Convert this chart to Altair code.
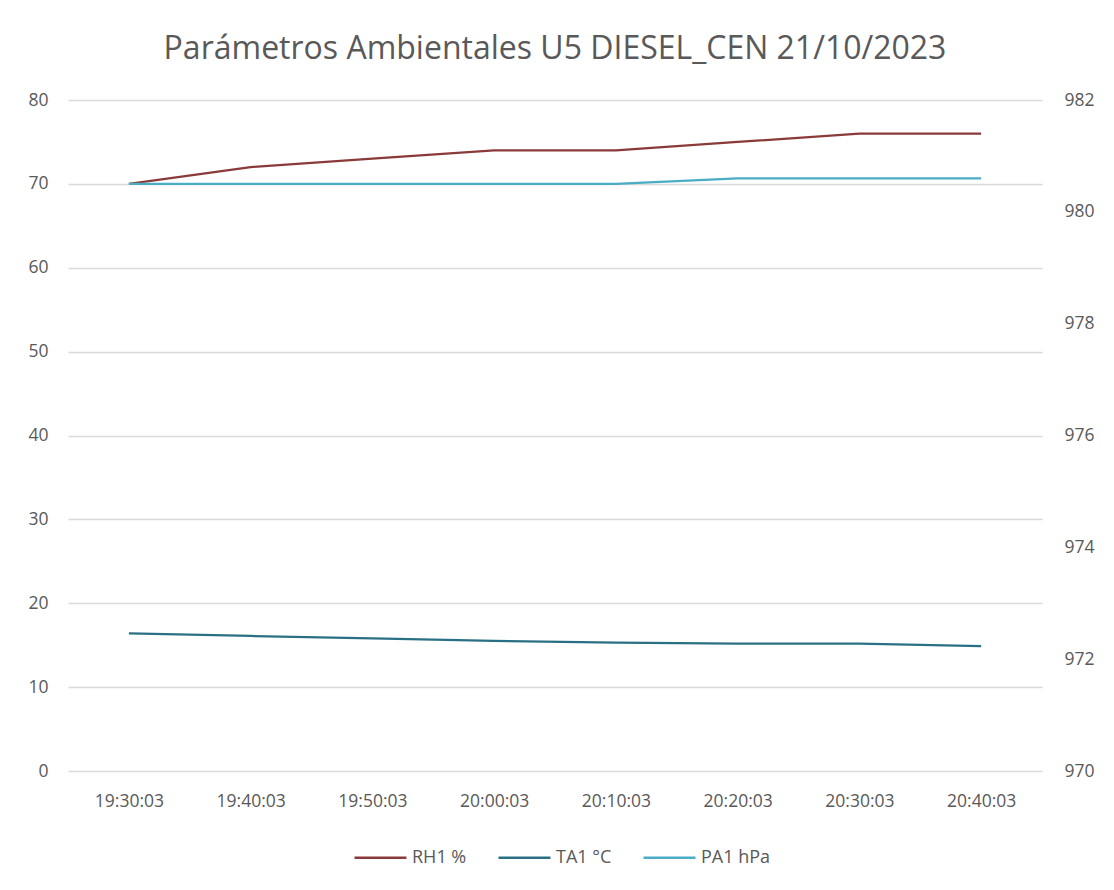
import altair as alt
import pandas as pd

times = ["19:30:03", "19:40:03", "19:50:03", "20:00:03", "20:10:03", "20:20:03", "20:30:03", "20:40:03"]
rh1 = [70, 72, 73, 74, 74, 75, 76, 76]
ta1 = [16.4, 16.1, 15.8, 15.5, 15.3, 15.2, 15.2, 14.9]
pa1 = [980.5, 980.5, 980.5, 980.5, 980.5, 980.6, 980.6, 980.6]

series = ["RH1 %", "TA1 °C", "PA1 hPa"]
colors = ["#8B3A3A", "#2A7084", "#4BACC6"]

rows = []
for t, a, b, c in zip(times, rh1, ta1, pa1):
    rows.append({"time": t, "serie": "RH1 %", "value": a})
    rows.append({"time": t, "serie": "TA1 °C", "value": b})
    rows.append({"time": t, "serie": "PA1 hPa", "value": c})
df = pd.DataFrame(rows)

FONT = "Open Sans"
GRAY = "#595959"
LBL = 17.5

x_enc = alt.X("time:O", sort=times,
              scale=alt.Scale(type="point", padding=0.5),
              axis=alt.Axis(title=None, labelAngle=0, domain=False, ticks=False,
                            labelPadding=21, labelFontSize=LBL, labelColor=GRAY,
                            labelFont=FONT, grid=False))
color_enc = alt.Color("serie:N", scale=alt.Scale(domain=series, range=colors),
                      sort=series,
                      legend=alt.Legend(title=None, orient="none", direction="horizontal",
                                        legendX=285, legendY=730,
                                        symbolType="stroke", symbolSize=2700,
                                        symbolStrokeWidth=2.5, labelFontSize=18,
                                        labelColor=GRAY, labelFont=FONT,
                                        columnPadding=26, labelOffset=4))

left = alt.Chart(df).transform_filter(
    alt.FieldOneOfPredicate(field="serie", oneOf=["RH1 %", "TA1 °C"])
).mark_line(strokeWidth=2.25).encode(
    x=x_enc,
    y=alt.Y("value:Q", scale=alt.Scale(domain=[0, 80], nice=False),
            axis=alt.Axis(title=None, values=list(range(0, 81, 10)), domain=False,
                          ticks=False, labelPadding=20, labelFontSize=LBL,
                          labelColor=GRAY, labelFont=FONT, grid=True,
                          gridColor="#D9D9D9", gridWidth=1.5, orient="left")),
    color=color_enc,
)

right = alt.Chart(df).transform_filter(
    alt.FieldEqualPredicate(field="serie", equal="PA1 hPa")
).mark_line(strokeWidth=2.25).encode(
    x=x_enc,
    y=alt.Y("value:Q", scale=alt.Scale(domain=[970, 982], nice=False, zero=False),
            axis=alt.Axis(title=None, values=list(range(970, 983, 2)), domain=False,
                          ticks=False, labelPadding=22, labelFontSize=LBL,
                          labelColor=GRAY, labelFont=FONT, grid=False,
                          orient="right")),
    color=color_enc,
)

chart = alt.layer(left, right).resolve_scale(y="independent").properties(
    width=974,
    height=671,
    title=alt.TitleParams("Parámetros Ambientales U5 DIESEL_CEN 21/10/2023",
                          fontSize=32, font=FONT, fontWeight="normal",
                          color=GRAY, offset=25, anchor="middle"),
    autosize=alt.AutoSizeParams(type="none"),
    padding={"left": 60, "top": 92, "right": 64, "bottom": 110},
    background="white",
).configure_view(stroke=None, strokeWidth=0)

chart.save("out.html", embed_options={"renderer": "svg", "actions": False})
